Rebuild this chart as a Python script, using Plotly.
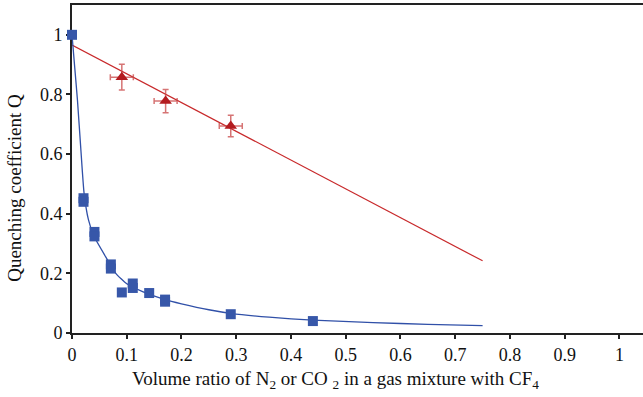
import plotly.graph_objects as go

# Blue squares (measured data)
sq_x = [0.0, 0.021, 0.021, 0.041, 0.041, 0.071, 0.071, 0.091, 0.111, 0.111, 0.141, 0.170, 0.170, 0.290, 0.440]
sq_y = [1.0, 0.452, 0.440, 0.339, 0.324, 0.230, 0.216, 0.136, 0.166, 0.151, 0.134, 0.112, 0.105, 0.063, 0.040]

# Blue fitted curve
fit_b_x = [0.0, 0.005, 0.01, 0.016, 0.022, 0.03, 0.04, 0.06, 0.08, 0.1, 0.13, 0.17, 0.2, 0.25, 0.29, 0.36, 0.44, 0.55, 0.65, 0.75]
fit_b_y = [1.0, 0.89, 0.78, 0.62, 0.47, 0.38, 0.325, 0.26, 0.20, 0.165, 0.138, 0.112, 0.098, 0.078, 0.066, 0.053, 0.043, 0.035, 0.029, 0.025]

# Red triangles with error bars
tri_x = [0.091, 0.171, 0.290]
tri_y = [0.858, 0.778, 0.694]
tri_ex = [0.021, 0.021, 0.021]
tri_ey = [0.043, 0.039, 0.036]

# Red fitted line
fit_r_x = [0.0, 0.75]
fit_r_y = [0.966, 0.242]

x_ticks = [0, 0.1, 0.2, 0.3, 0.4, 0.5, 0.6, 0.7, 0.8, 0.9, 1]
x_ticktext = ["0", "0.1", "0.2", "0.3", "0.4", "0.5", "0.6", "0.7", "0.8", "0.9", "1"]
y_ticks = [0, 0.2, 0.4, 0.6, 0.8, 1]
y_ticktext = ["0", "0.2", "0.4", "0.6", "0.8", "1"]

FONT = "Liberation Serif, Times New Roman, serif"

fig = go.Figure()
fig.add_trace(go.Scatter(x=fit_r_x, y=fit_r_y, mode="lines",
                         line=dict(color="#C8292B", width=1.2), cliponaxis=False,
                         hoverinfo="skip"))
fig.add_trace(go.Scatter(x=fit_b_x, y=fit_b_y, mode="lines",
                         line=dict(color="#3050A8", width=1.3, shape="spline", smoothing=0.5),
                         cliponaxis=False, hoverinfo="skip"))
fig.add_trace(go.Scatter(x=sq_x, y=sq_y, mode="markers",
                         marker=dict(symbol="square", size=10, color="#3757A9",
                                     line=dict(width=0)),
                         cliponaxis=False))
fig.add_trace(go.Scatter(x=tri_x, y=tri_y, mode="markers",
                         marker=dict(symbol="triangle-up", size=11, color="#B31B1F",
                                     line=dict(width=0)),
                         error_x=dict(type="data", array=tri_ex, color="rgba(200,70,70,0.75)",
                                      thickness=1.5, width=3),
                         error_y=dict(type="data", array=tri_ey, color="rgba(200,70,70,0.75)",
                                      thickness=1.5, width=3),
                         cliponaxis=False))

axis_common = dict(showgrid=False, zeroline=False, showline=True, linecolor="#222222",
                   linewidth=2, ticks="outside", ticklen=4, tickwidth=1.5, tickcolor="#222222",
                   tickfont=dict(family=FONT, size=18, color="#111111"), layer="below traces")

fig.update_layout(
    width=643, height=397,
    margin=dict(l=72, r=0, t=5, b=64),
    paper_bgcolor="white", plot_bgcolor="white",
    showlegend=False,
    xaxis=dict(range=[0, 1.043], tickvals=x_ticks, ticktext=x_ticktext, mirror=True, **axis_common),
    yaxis=dict(range=[0, 1.10], tickvals=y_ticks, ticktext=y_ticktext, **axis_common),
    annotations=[
        dict(text="Volume ratio of N<sub>2</sub> or CO <sub>2</sub> in a gas mixture with CF<sub>4</sub>",
             xref="paper", yref="paper", x=0.4615, y=-0.142, xanchor="center", yanchor="middle",
             showarrow=False, font=dict(family=FONT, size=19, color="#111111")),
        dict(text="Quenching coefficient Q", textangle=-90,
             xref="paper", yref="paper", x=-0.0998, y=0.4426, xanchor="center", yanchor="middle",
             showarrow=False, font=dict(family=FONT, size=19, color="#111111")),
    ],
)

fig.write_html("out.html")
